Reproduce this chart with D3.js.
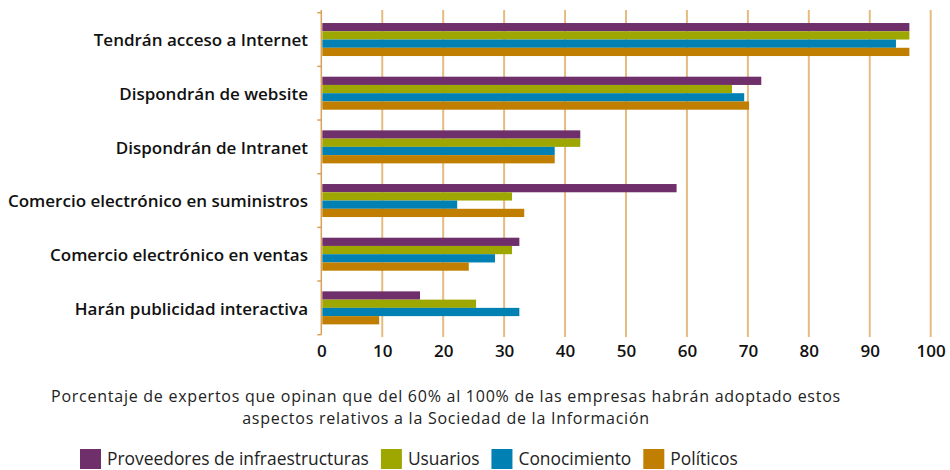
<!DOCTYPE html>
<html>
<head>
<meta charset="utf-8">
<script src="https://cdn.jsdelivr.net/npm/d3@7"></script>
<style>
  html, body { margin: 0; padding: 0; background: #fff; }
  svg { display: block; }
</style>
</head>
<body>
<svg id="chart" width="950" height="470"></svg>
<script>
// Aspects adopted by companies (top to bottom)
const categories = [
  "Tendrán acceso a Internet",
  "Dispondrán de website",
  "Dispondrán de Intranet",
  "Comercio electrónico en suministros",
  "Comercio electrónico en ventas",
  "Harán publicidad interactiva"
];

// Expert groups
const seriesNames = ["Proveedores de infraestructuras", "Usuarios", "Conocimiento", "Políticos"];
const seriesColors = ["#6f2f6a", "#9ea600", "#0080b3", "#c07f00"];

// Percent of experts per group, one array per series, in category order
const proveedores  = [96.5, 72.2, 42.5, 58.3, 32.5, 16.2];
const usuarios     = [96.5, 67.4, 42.5, 31.3, 31.3, 25.4];
const conocimiento = [94.3, 69.4, 38.3, 22.3, 28.5, 32.5];
const politicos    = [96.5, 70.2, 38.3, 33.3, 24.2, 9.5];

const xTicks = [0, 10, 20, 30, 40, 50, 60, 70, 80, 90, 100];

const captionLines = [
  "Porcentaje de expertos que opinan que del 60% al 100% de las empresas habrán adoptado estos",
  "aspectos relativos a la Sociedad de la Información"
];

const seriesValues = [proveedores, usuarios, conocimiento, politicos];

const svg = d3.select("#chart");
const font = "'Open Sans', 'Lato', sans-serif";
const axisColor = "#d9a057";
const gridColor = "#e6bb80";

const x = d3.scaleLinear().domain([0, 100]).range([321.3, 930.7]);
const y = d3.scaleBand().domain(categories).range([12.7, 334.7]).paddingInner(0.385).paddingOuter(0.1925);
const ySub = d3.scaleBand().domain(d3.range(seriesNames.length)).range([0, y.bandwidth()]);

// vertical grid lines
svg.append("g")
  .selectAll("line")
  .data(xTicks.filter(d => d > 0))
  .join("line")
  .attr("x1", d => x(d)).attr("x2", d => x(d))
  .attr("y1", 10).attr("y2", 337)
  .attr("stroke", gridColor)
  .attr("stroke-width", 2);

// bars
const rows = svg.append("g")
  .selectAll("g")
  .data(categories)
  .join("g")
  .attr("transform", d => `translate(0,${y(d)})`);

rows.selectAll("rect")
  .data((c, ci) => seriesValues.map((vals, si) => ({ si, v: vals[ci] })))
  .join("rect")
  .attr("x", x(0) + 1)
  .attr("y", d => ySub(d.si))
  .attr("width", d => x(d.v) - x(0) - 1)
  .attr("height", ySub.bandwidth())
  .attr("fill", d => seriesColors[d.si]);

// category axis line with tick marks at band boundaries
const step = y.step();
const boundaries = d3.range(categories.length + 1).map(i => y.range()[0] + i * step);
svg.append("line")
  .attr("x1", x(0)).attr("x2", x(0))
  .attr("y1", 10).attr("y2", boundaries[boundaries.length - 1])
  .attr("stroke", axisColor).attr("stroke-width", 1.5);
svg.append("g")
  .selectAll("line")
  .data(boundaries)
  .join("line")
  .attr("x1", x(0) - 4).attr("x2", x(0))
  .attr("y1", d => d).attr("y2", d => d)
  .attr("stroke", axisColor).attr("stroke-width", 1.5);

// category labels
svg.append("g")
  .selectAll("text")
  .data(categories)
  .join("text")
  .attr("x", 308)
  .attr("y", d => y(d) + y.bandwidth() / 2 + 1)
  .attr("dy", "0.35em")
  .attr("text-anchor", "end")
  .attr("font-family", font)
  .attr("font-weight", 600)
  .attr("font-size", 17)
  .attr("fill", "#111")
  .text(d => d);

// value axis
const xAxis = svg.append("g")
  .attr("transform", "translate(0,337)")
  .call(d3.axisBottom(x).tickValues(xTicks).tickSize(0).tickPadding(8).tickFormat(d3.format("d")));
xAxis.select(".domain").remove();
xAxis.selectAll("text")
  .attr("font-family", font)
  .attr("font-weight", 600)
  .attr("font-size", 17)
  .attr("fill", "#111");

// caption
svg.append("g")
  .selectAll("text")
  .data(captionLines)
  .join("text")
  .attr("x", 446)
  .attr("y", (d, i) => 402 + i * 22)
  .attr("text-anchor", "middle")
  .attr("font-family", font)
  .attr("font-size", 16)
  .attr("letter-spacing", 0.75)
  .attr("fill", "#222")
  .text(d => d);

// legend
const legend = svg.append("g").attr("transform", "translate(80,449)");
let lx = 0;
seriesNames.forEach((name, i) => {
  const g = legend.append("g").attr("transform", `translate(${lx},0)`);
  g.append("rect").attr("width", 21).attr("height", 20).attr("fill", seriesColors[i]);
  const t = g.append("text")
    .attr("x", 27).attr("y", 10).attr("dy", "0.35em")
    .attr("font-family", font).attr("font-size", 17.4).attr("fill", "#222")
    .text(name);
  lx += 27 + t.node().getComputedTextLength() + 12;
});
</script>
</body>
</html>
